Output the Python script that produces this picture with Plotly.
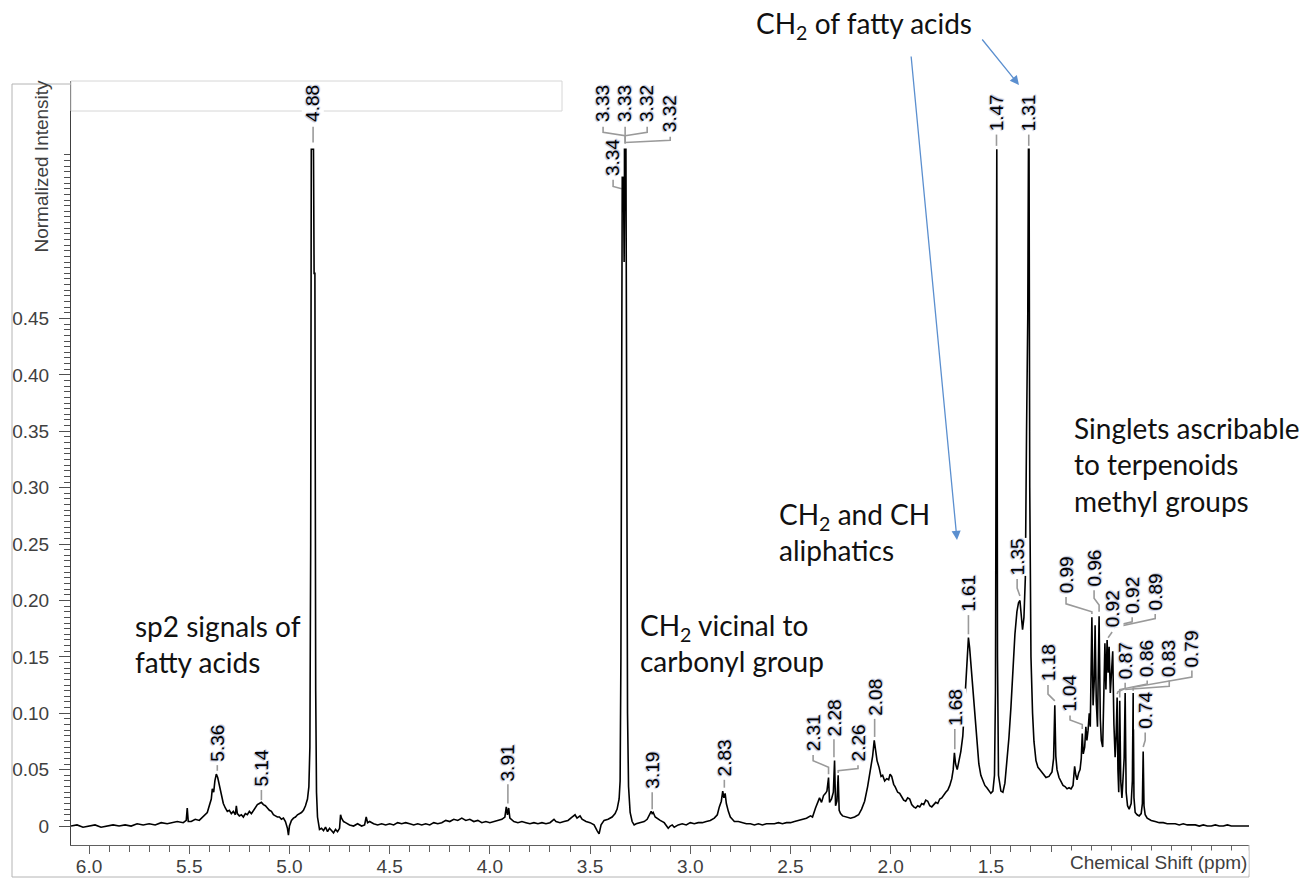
import plotly.graph_objects as go

# ---------------- data ----------------
PPM = [6.09, 6.06, 6.03, 6.00, 5.97, 5.94, 5.91, 5.88, 5.85, 5.82, 5.79, 5.76, 5.73, 5.70, 5.67, 5.64, 5.61, 5.58,
       5.56, 5.53, 5.515, 5.51, 5.505, 5.49, 5.47, 5.45, 5.43, 5.41, 5.40, 5.39, 5.385, 5.378, 5.372, 5.365, 5.358,
       5.35, 5.34, 5.33, 5.32, 5.31, 5.30, 5.29, 5.28, 5.27, 5.265, 5.26, 5.25, 5.24, 5.23, 5.22, 5.21, 5.20, 5.19,
       5.18, 5.17, 5.16, 5.15, 5.14, 5.13, 5.12, 5.11, 5.10, 5.09, 5.08, 5.07, 5.06, 5.05, 5.04, 5.03, 5.02, 5.01,
       5.005, 5.0, 4.99, 4.98, 4.97, 4.96, 4.95, 4.94, 4.93, 4.92, 4.91, 4.903, 4.898, 4.894, 4.891, 4.885, 4.88,
       4.877, 4.873, 4.869, 4.865, 4.86, 4.855, 4.85, 4.84, 4.83, 4.82, 4.81, 4.80, 4.79, 4.78, 4.77, 4.76, 4.75,
       4.745, 4.74, 4.73, 4.72, 4.70, 4.68, 4.66, 4.64, 4.625, 4.617, 4.61, 4.60, 4.58, 4.56, 4.54, 4.52, 4.50,
       4.48, 4.46, 4.44, 4.42, 4.40, 4.38, 4.36, 4.34, 4.32, 4.30, 4.28, 4.26, 4.24, 4.22, 4.20, 4.18, 4.16, 4.14,
       4.12, 4.10, 4.08, 4.06, 4.04, 4.02, 4.00, 3.98, 3.96, 3.94, 3.925, 3.918, 3.912, 3.906, 3.90, 3.89, 3.88,
       3.86, 3.84, 3.82, 3.80, 3.78, 3.76, 3.74, 3.72, 3.70, 3.68, 3.67, 3.65, 3.63, 3.61, 3.59, 3.575, 3.565,
       3.55, 3.54, 3.52, 3.50, 3.48, 3.465, 3.455, 3.445, 3.43, 3.41, 3.39, 3.375, 3.365, 3.355, 3.35, 3.346,
       3.343, 3.339, 3.334, 3.33, 3.326, 3.321, 3.317, 3.313, 3.308, 3.30, 3.29, 3.28, 3.27, 3.25, 3.23, 3.215,
       3.205, 3.195, 3.19, 3.185, 3.175, 3.16, 3.15, 3.13, 3.12, 3.11, 3.10, 3.09, 3.08, 3.06, 3.04, 3.02, 3.00,
       2.98, 2.96, 2.94, 2.92, 2.90, 2.88, 2.865, 2.855, 2.845, 2.838, 2.832, 2.826, 2.82, 2.81, 2.80, 2.79, 2.78,
       2.76, 2.74, 2.72, 2.70, 2.68, 2.66, 2.64, 2.62, 2.60, 2.58, 2.56, 2.54, 2.52, 2.50, 2.48, 2.46, 2.44, 2.42,
       2.40, 2.39, 2.375, 2.365, 2.355, 2.345, 2.335, 2.325, 2.318, 2.31, 2.305, 2.295, 2.286, 2.28, 2.275, 2.268,
       2.262, 2.257, 2.25, 2.24, 2.22, 2.20, 2.18, 2.16, 2.145, 2.13, 2.115, 2.10, 2.09, 2.082, 2.076, 2.068,
       2.058, 2.048, 2.04, 2.03, 2.02, 2.01, 2.003, 1.995, 1.985, 1.978, 1.965, 1.955, 1.945, 1.935, 1.925, 1.915,
       1.905, 1.895, 1.885, 1.875, 1.865, 1.855, 1.845, 1.835, 1.825, 1.815, 1.805, 1.795, 1.785, 1.775, 1.765,
       1.755, 1.745, 1.735, 1.725, 1.715, 1.705, 1.695, 1.688, 1.682, 1.676, 1.668, 1.66, 1.65, 1.64, 1.632,
       1.625, 1.618, 1.612, 1.606, 1.598, 1.59, 1.58, 1.57, 1.56, 1.55, 1.54, 1.53, 1.52, 1.51, 1.50, 1.49, 1.482,
       1.477, 1.4735, 1.4705, 1.467, 1.462, 1.45, 1.44, 1.43, 1.42, 1.41, 1.40, 1.39, 1.38, 1.37, 1.362, 1.355,
       1.348, 1.342, 1.335, 1.328, 1.322, 1.316, 1.3125, 1.3095, 1.306, 1.3, 1.292, 1.285, 1.275, 1.265, 1.255,
       1.24, 1.225, 1.21, 1.195, 1.187, 1.181, 1.176, 1.17, 1.16, 1.15, 1.14, 1.13, 1.12, 1.11, 1.10, 1.09, 1.082,
       1.076, 1.07, 1.062, 1.055, 1.049, 1.044, 1.039, 1.032, 1.026, 1.021, 1.015, 1.009, 1.004, 0.996, 0.990,
       0.984, 0.980, 0.974, 0.968, 0.960, 0.954, 0.949, 0.942, 0.936, 0.931, 0.926, 0.920, 0.915, 0.910, 0.904,
       0.898, 0.892, 0.886, 0.880, 0.875, 0.870, 0.866, 0.862, 0.857, 0.852, 0.846, 0.840, 0.835, 0.830, 0.825,
       0.818, 0.810, 0.800, 0.794, 0.790, 0.786, 0.780, 0.770, 0.760, 0.750, 0.744, 0.740, 0.736, 0.730, 0.72,
       0.71, 0.70, 0.68, 0.66, 0.64, 0.62, 0.60, 0.58, 0.56, 0.54, 0.52, 0.50, 0.48, 0.46, 0.44, 0.42, 0.40,
       0.38, 0.36, 0.34, 0.32, 0.30, 0.28, 0.26, 0.24, 0.212]

INTENSITY = [0.000, 0.001, -0.001, 0.000, 0.001, -0.001, 0.000, 0.001, 0.000, 0.001, 0.000, 0.002, 0.001, 0.002,
             0.001, 0.003, 0.002, 0.003, 0.004, 0.003, 0.005, 0.016, 0.004, 0.004, 0.006, 0.005, 0.009, 0.012,
             0.018, 0.024, 0.033, 0.030, 0.040, 0.046, 0.043, 0.036, 0.028, 0.020, 0.016, 0.013, 0.014, 0.011,
             0.013, 0.010, 0.018, 0.011, 0.009, 0.010, 0.008, 0.011, 0.010, 0.013, 0.011, 0.014, 0.017, 0.019,
             0.020, 0.021, 0.019, 0.018, 0.016, 0.014, 0.013, 0.010, 0.009, 0.008, 0.008, 0.006, 0.007, 0.004,
             -0.002, -0.008, 0.000, 0.005, 0.007, 0.008, 0.010, 0.011, 0.012, 0.014, 0.018, 0.024, 0.035, 0.07,
             0.25, 0.6, 0.6, 0.6, 0.49, 0.49, 0.12, 0.03, 0.008, 0.001, -0.003, -0.002, -0.004, -0.001, -0.005,
             -0.002, -0.004, -0.006, -0.003, -0.005, -0.002, 0.010, 0.007, 0.004, 0.003, 0.001, 0.000, 0.002,
             0.000, 0.001, 0.008, 0.003, 0.004, 0.002, 0.001, 0.002, 0.001, 0.002, 0.001, 0.003, 0.002, 0.003,
             0.002, 0.001, 0.002, 0.001, 0.002, 0.001, 0.003, 0.002, 0.003, 0.005, 0.004, 0.006, 0.005, 0.007,
             0.005, 0.006, 0.004, 0.005, 0.003, 0.004, 0.003, 0.004, 0.005, 0.006, 0.008, 0.017, 0.010, 0.016,
             0.007, 0.005, 0.004, 0.003, 0.004, 0.003, 0.002, 0.003, 0.002, 0.003, 0.002, 0.003, 0.006, 0.004,
             0.003, 0.004, 0.005, 0.008, 0.010, 0.007, 0.009, 0.006, 0.004, 0.003, 0.001, -0.004, -0.007, 0.001,
             0.005, 0.006, 0.008, 0.011, 0.015, 0.024, 0.04, 0.15, 0.565, 0.6, 0.6, 0.5, 0.6, 0.6, 0.35, 0.1, 0.035,
             0.012, 0.004, 0.001, 0.002, 0.003, 0.004, 0.006, 0.009, 0.013, 0.011, 0.012, 0.008, 0.006, 0.005,
             0.003, 0.001, -0.002, 0.000, 0.001, -0.001, 0.001, 0.002, 0.001, 0.003, 0.002, 0.003, 0.003, 0.004,
             0.005, 0.007, 0.010, 0.017, 0.022, 0.031, 0.025, 0.029, 0.020, 0.013, 0.008, 0.006, 0.004, 0.004,
             0.003, 0.002, 0.002, 0.001, 0.002, 0.001, 0.002, 0.002, 0.002, 0.003, 0.002, 0.003, 0.003, 0.004,
             0.005, 0.006, 0.007, 0.009, 0.008, 0.016, 0.020, 0.025, 0.021, 0.027, 0.029, 0.031, 0.043, 0.021,
             0.024, 0.030, 0.058, 0.018, 0.022, 0.045, 0.014, 0.011, 0.009, 0.008, 0.007, 0.008, 0.010, 0.015,
             0.022, 0.035, 0.050, 0.062, 0.076, 0.066, 0.058, 0.052, 0.044, 0.045, 0.040, 0.042, 0.041, 0.046,
             0.044, 0.037, 0.035, 0.030, 0.029, 0.026, 0.023, 0.022, 0.025, 0.024, 0.019, 0.017, 0.016, 0.018,
             0.017, 0.020, 0.019, 0.023, 0.022, 0.018, 0.017, 0.019, 0.021, 0.020, 0.024, 0.025, 0.028, 0.030,
             0.032, 0.036, 0.042, 0.050, 0.065, 0.055, 0.050, 0.058, 0.066, 0.080, 0.105, 0.130, 0.155, 0.167,
             0.158, 0.140, 0.118, 0.095, 0.074, 0.055, 0.045, 0.040, 0.036, 0.034, 0.031, 0.029, 0.031, 0.045,
             0.12, 0.6, 0.6, 0.15, 0.045, 0.031, 0.030, 0.038, 0.055, 0.078, 0.105, 0.140, 0.170, 0.190, 0.198,
             0.200, 0.185, 0.174, 0.185, 0.22, 0.35, 0.45, 0.6, 0.6, 0.3, 0.15, 0.1, 0.075, 0.058, 0.052, 0.050,
             0.046, 0.043, 0.044, 0.048, 0.060, 0.107, 0.062, 0.050, 0.043, 0.040, 0.036, 0.035, 0.033, 0.034,
             0.033, 0.036, 0.053, 0.045, 0.041, 0.047, 0.050, 0.060, 0.082, 0.064, 0.070, 0.088, 0.076, 0.085,
             0.100, 0.088, 0.185, 0.107, 0.130, 0.178, 0.110, 0.088, 0.186, 0.095, 0.076, 0.070, 0.120, 0.162,
             0.121, 0.165, 0.136, 0.159, 0.118, 0.140, 0.155, 0.090, 0.061, 0.080, 0.114, 0.050, 0.030, 0.111,
             0.040, 0.025, 0.045, 0.060, 0.118, 0.030, 0.018, 0.015, 0.020, 0.040, 0.118, 0.025, 0.012, 0.010,
             0.009, 0.011, 0.020, 0.066, 0.018, 0.010, 0.007, 0.006, 0.005, 0.004, 0.003, 0.003, 0.002, 0.002,
             0.002, 0.001, 0.002, 0.001, 0.001, 0.001, 0.000, 0.001, 0.000, 0.000, 0.001, 0.000, 0.000, 0.001,
             0.000, 0.000, 0.000, 0.000, 0.000]

X_TICKS = [6.0, 5.5, 5.0, 4.5, 4.0, 3.5, 3.0, 2.5, 2.0, 1.5, 1.0, 0.5]
X_TICK_TEXT = ["6.0", "5.5", "5.0", "4.5", "4.0", "3.5", "3.0", "2.5", "2.0", "1.5", "", ""]
Y_LABELLED = [0, 0.05, 0.10, 0.15, 0.20, 0.25, 0.30, 0.35, 0.40, 0.45]
Y_LABEL_TEXT = ["0", "0.05", "0.10", "0.15", "0.20", "0.25", "0.30", "0.35", "0.40", "0.45"]

# peak labels: text, text-centre ppm, intensity at text bottom, leader polyline [(ppm, intensity), ...]
PEAK_LABELS = [
    ("5.36", 5.36, 0.056, [(5.36, 0.054), (5.36, 0.049)]),
    ("5.14", 5.14, 0.034, [(5.14, 0.032), (5.14, 0.023)]),
    ("4.88", 4.882, 0.623, [(4.882, 0.620), (4.882, 0.606)]),
    ("3.91", 3.91, 0.039, [(3.91, 0.037), (3.91, 0.020)]),
    ("3.33", 3.435, 0.623, [(3.435, 0.620), (3.435, 0.615), (3.325, 0.612), (3.325, 0.605)]),
    ("3.33", 3.325, 0.623, [(3.325, 0.620), (3.325, 0.605)]),
    ("3.32", 3.215, 0.623, [(3.215, 0.620), (3.215, 0.615), (3.325, 0.612)]),
    ("3.32", 3.10, 0.614, [(3.10, 0.611), (3.10, 0.608), (3.325, 0.606)]),
    ("3.34", 3.385, 0.575, [(3.385, 0.573), (3.385, 0.567), (3.342, 0.565)]),
    ("3.19", 3.19, 0.032, [(3.19, 0.030), (3.19, 0.015)]),
    ("2.83", 2.83, 0.043, [(2.83, 0.041), (2.83, 0.034)]),
    ("2.31", 2.387, 0.065, [(2.387, 0.063), (2.387, 0.058), (2.31, 0.052), (2.31, 0.046)]),
    ("2.28", 2.283, 0.079, [(2.283, 0.077), (2.283, 0.061)]),
    ("2.26", 2.163, 0.056, [(2.163, 0.054), (2.163, 0.051), (2.262, 0.049), (2.262, 0.047)]),
    ("2.08", 2.08, 0.097, [(2.08, 0.095), (2.08, 0.079)]),
    ("1.68", 1.68, 0.088, [(1.68, 0.086), (1.68, 0.068)]),
    ("1.61", 1.612, 0.189, [(1.612, 0.187), (1.612, 0.170)]),
    ("1.47", 1.472, 0.615, [(1.472, 0.613), (1.472, 0.603)]),
    ("1.35", 1.369, 0.221, [(1.369, 0.219), (1.369, 0.211), (1.355, 0.204)]),
    ("1.31", 1.311, 0.615, [(1.311, 0.613), (1.311, 0.603)]),
    ("1.18", 1.215, 0.128, [(1.215, 0.125), (1.215, 0.117), (1.181, 0.111)]),
    ("1.04", 1.105, 0.100, [(1.105, 0.098), (1.105, 0.094), (1.044, 0.090), (1.044, 0.086)]),
    ("0.99", 1.125, 0.205, [(1.125, 0.203), (1.125, 0.197), (0.996, 0.190), (0.996, 0.188)]),
    ("0.96", 0.985, 0.211, [(0.985, 0.209), (0.985, 0.202), (0.960, 0.196), (0.960, 0.190)]),
    ("0.92", 0.895, 0.175, [(0.895, 0.172), (0.915, 0.167)]),
    ("0.92", 0.795, 0.187, [(0.795, 0.185), (0.795, 0.181), (0.89, 0.177)]),
    ("0.89", 0.68, 0.190, [(0.68, 0.188), (0.68, 0.184), (0.885, 0.176)]),
    ("0.87", 0.83, 0.129, [(0.83, 0.127), (0.83, 0.122), (0.866, 0.119), (0.870, 0.117)]),
    ("0.86", 0.72, 0.131, [(0.72, 0.129), (0.72, 0.126), (0.857, 0.121), (0.857, 0.114)]),
    ("0.83", 0.61, 0.131, [(0.61, 0.129), (0.61, 0.124), (0.830, 0.121)]),
    ("0.79", 0.497, 0.140, [(0.497, 0.138), (0.497, 0.132), (0.790, 0.123), (0.790, 0.120)]),
    ("0.74", 0.73, 0.085, [(0.73, 0.083), (0.73, 0.076), (0.740, 0.070)]),
]

# free text notes (text, left px, vertical centre px)
NOTES = [
    ("CH<sub>2</sub> of fatty acids", 754, 25),
    ("Singlets ascribable<br>to terpenoids<br>methyl groups", 1072, 464),
    ("CH<sub>2</sub> and CH<br>aliphatics", 777, 532),
    ("sp2 signals of<br>fatty acids", 133, 644),
    ("CH<sub>2</sub> vicinal to<br>carbonyl group", 638, 643),
]
# blue arrows: (tail px, head px)
ARROWS = [((981, 38), (1019, 85)), ((911, 55), (957, 540))]

# ---------------- layout geometry ----------------
W, H = 1304, 879
L, R, T, B = 71, 1249, 81, 845
X_RANGE = [6.09, 0.212]
Y_RANGE = [-0.0168, 0.6605]


def px(x):
    return (x - L) / (R - L)


def py(y):
    return (B - y) / (B - T)


TICK_FONT = dict(family="Liberation Sans, Arial, sans-serif", size=19, color="#404040")
NOTE_FONT = dict(family="Lato, Carlito, Calibri, sans-serif", size=28, color="#111111")
LABEL_FONT = dict(family="Liberation Sans, Arial, sans-serif", size=19, color="#000000",
                  shadow="1px 1px 1px #b8bfd8, -1px -1px 1px #b8bfd8")

fig = go.Figure()

# leader lines
lx, ly = [], []
for _, _, _, pts in PEAK_LABELS:
    for p, v in pts:
        lx.append(p)
        ly.append(v)
    lx.append(None)
    ly.append(None)
fig.add_trace(go.Scatter(x=lx, y=ly, mode="lines", line=dict(color="#9a9a9a", width=1.6),
                         hoverinfo="skip", showlegend=False))

# spectrum
fig.add_trace(go.Scatter(x=PPM, y=INTENSITY, mode="lines", line=dict(color="#000000", width=1.6),
                         showlegend=False))

y_major = [round(i * 0.025, 3) for i in range(24)]
y_major_text = []
for v in y_major:
    hit = [t for val, t in zip(Y_LABELLED, Y_LABEL_TEXT) if abs(val - v) < 1e-9]
    y_major_text.append(hit[0] if hit else "")
y_minor = [round(i * 0.005, 3) for i in range(120)]
x_minor = [round(6.0 - i * 0.1, 2) for i in range(58)]

fig.update_layout(
    width=W, height=H, autosize=False,
    margin=dict(l=L, r=W - R, t=T, b=H - B, pad=0, autoexpand=False),
    paper_bgcolor="white", plot_bgcolor="white",
    showlegend=False,
    xaxis=dict(range=X_RANGE, showgrid=False, zeroline=False, showline=True, linecolor="#606060",
               linewidth=1, ticks="outside", ticklen=8, tickcolor="#606060", tickwidth=1,
               tickmode="array", tickvals=X_TICKS, ticktext=X_TICK_TEXT, tickfont=TICK_FONT,
               automargin=False, ticklabelstandoff=-4,
               minor=dict(tickmode="array", tickvals=x_minor, ticks="outside", ticklen=6,
                          tickcolor="#606060", showgrid=False)),
    yaxis=dict(range=Y_RANGE, showgrid=False, zeroline=False, showline=True, linecolor="#404040",
               linewidth=1, ticks="outside", ticklen=11, tickcolor="#505050", tickwidth=1,
               tickmode="array", tickvals=y_major, ticktext=y_major_text, tickfont=TICK_FONT,
               ticklabelstandoff=6, automargin=False,
               minor=dict(tickmode="array", tickvals=y_minor, ticks="outside", ticklen=6,
                          tickcolor="#505050", showgrid=False)),
)

shapes = []
frame = dict(type="line", xref="paper", yref="paper", line=dict(color="#b4b4b4", width=1))
shapes.append({**frame, "x0": px(12), "x1": px(12), "y0": py(84), "y1": py(877)})
shapes.append({**frame, "x0": px(12), "x1": px(L), "y0": py(84), "y1": py(84)})
shapes.append({**frame, "x0": px(12), "x1": px(R), "y0": py(877), "y1": py(877)})
shapes.append({**frame, "x0": px(R), "x1": px(R), "y0": py(B), "y1": py(877)})
shapes.append(dict(type="rect", xref="paper", yref="paper", x0=px(L), x1=px(562), y0=py(111), y1=py(T),
                   line=dict(color="#d6d6d6", width=1), fillcolor="rgba(0,0,0,0)"))
fig.update_layout(shapes=shapes)

ann = []
for text, xpos, ybot, _ in PEAK_LABELS:
    ann.append(dict(x=xpos, y=ybot, xref="x", yref="y", text=text, showarrow=False, textangle=-90,
                    xanchor="center", yanchor="bottom", font=LABEL_FONT, bgcolor="white", borderpad=0))

ann.append(dict(x=px(41), y=py(255), xref="paper", yref="paper", text="Normalized Intensity",
                showarrow=False, textangle=-90, xanchor="center", yanchor="bottom", font=TICK_FONT))
ann.append(dict(x=px(R), y=py(862), xref="paper", yref="paper", text="Chemical Shift (ppm)",
                showarrow=False, xanchor="right", yanchor="middle", font=TICK_FONT, bgcolor="white"))

for text, x0, yc in NOTES:
    ann.append(dict(x=px(x0), y=py(yc), xref="paper", yref="paper", text=text, showarrow=False,
                    xanchor="left", yanchor="middle", align="left", font=NOTE_FONT))

for (tx, ty), (hx, hy) in ARROWS:
    ann.append(dict(x=px(hx), y=py(hy), xref="paper", yref="paper", text="", showarrow=True,
                    ax=tx - hx, ay=ty - hy, axref="pixel", ayref="pixel", arrowhead=2,
                    arrowsize=1.4, arrowwidth=1.3, arrowcolor="#5b8fcf", standoff=0))

fig.update_layout(annotations=ann)

fig.write_html("out.html")
